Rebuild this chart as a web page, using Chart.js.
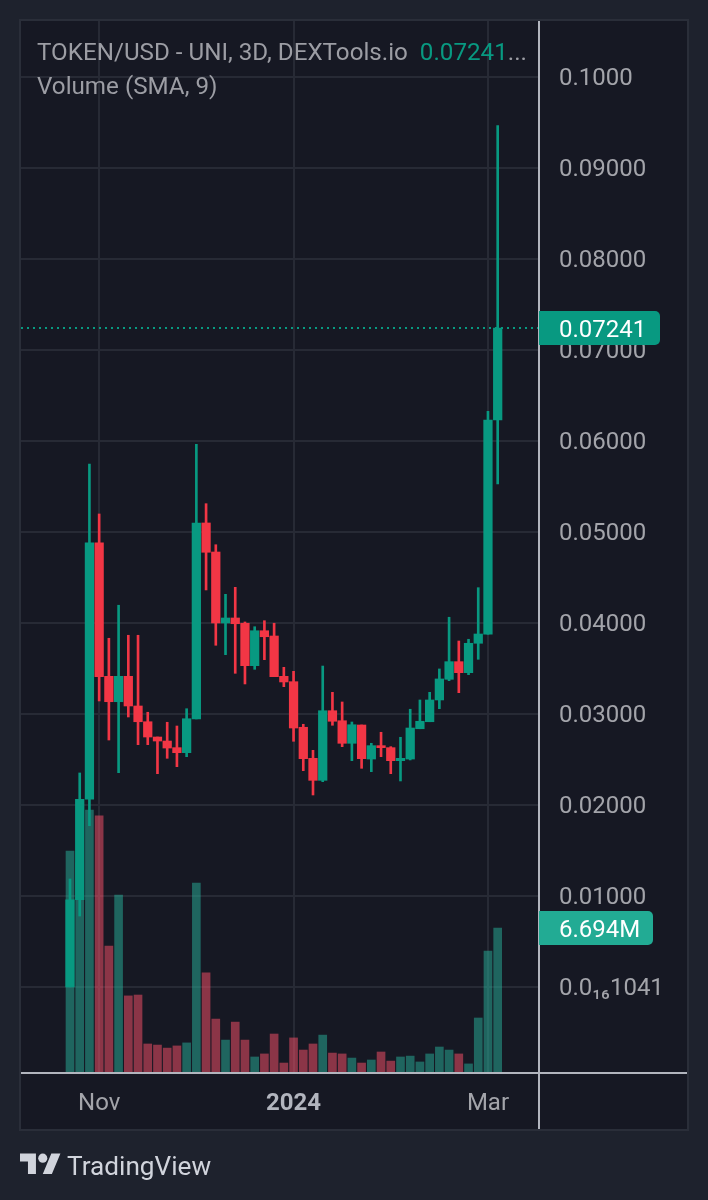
<!DOCTYPE html>
<html>
<head>
<meta charset="utf-8">
<title>TOKEN/USD</title>
<script src="https://cdn.jsdelivr.net/npm/chart.js@4/dist/chart.umd.min.js"></script>
<style>
  html, body { margin: 0; padding: 0; background: #1e222d; }
  body { width: 708px; height: 1200px; position: relative; overflow: hidden; font-family: Roboto, sans-serif; }
  canvas { position: absolute; left: 0; top: 0; }
  .legend { position: absolute; left: 37px; font-size: 24.2px; line-height: 30px; color: #9c9da4; white-space: nowrap; }
  .legend b { font-weight: 400; color: #089981; margin-left: 6px; }
  #brand { position: absolute; left: 20px; top: 1149px; height: 34px; display: flex; align-items: center; color: #d1d4dc; font-size: 26.2px; }
  #brand svg { margin-right: 6px; margin-top: -2px; }
</style>
</head>
<body>
<canvas id="chart" width="708" height="1200"></canvas>
<div class="legend" style="top:37px">TOKEN/USD - UNI, 3D, DEXTools.io <b id="lastPrice"></b><span>...</span></div>
<div class="legend" style="top:71px">Volume (SMA, 9)</div>
<div id="brand">
  <svg width="41" height="32" viewBox="0 0 36 28"><path fill="#d1d4dc" d="M14 22H7V11H0V4h14v18zM28 22h-8l7.5-18h8L28 22z"/><circle fill="#d1d4dc" cx="20" cy="8" r="4"/></svg>
  <span>TradingView</span>
</div>
<script>
// 3D candles
const dates = ['Oct 23','Oct 26','Oct 29','Nov 1','Nov 4','Nov 7','Nov 10','Nov 13','Nov 16','Nov 19','Nov 22','Nov 25','Nov 28','Dec 1','Dec 4','Dec 7','Dec 10','Dec 13','Dec 16','Dec 19','Dec 22','Dec 25','Dec 28','Dec 31','Jan 3','Jan 6','Jan 9','Jan 12','Jan 15','Jan 18','Jan 21','Jan 24','Jan 27','Jan 30','Feb 2','Feb 5','Feb 8','Feb 11','Feb 14','Feb 17','Feb 20','Feb 23','Feb 26','Feb 29','Mar 3'];
const opens = [0.00001,0.00959,0.02063,0.04882,0.03414,0.03135,0.03414,0.03088,0.02915,0.02747,0.02703,0.0263,0.02575,0.02945,0.05099,0.0478,0.04,0.04055,0.03997,0.03531,0.03915,0.03857,0.03414,0.03355,0.02854,0.02513,0.02271,0.03036,0.02926,0.02678,0.02879,0.02505,0.02652,0.0263,0.02487,0.02505,0.02838,0.02915,0.03154,0.03381,0.03575,0.03454,0.03777,0.03876,0.06231];
const closes = [0.00959,0.02063,0.04882,0.0341,0.03135,0.03414,0.03088,0.02915,0.02747,0.02703,0.02626,0.02575,0.02948,0.05099,0.04777,0.04,0.04055,0.03992,0.03531,0.03915,0.03849,0.0341,0.03352,0.02846,0.02509,0.02271,0.03036,0.0292,0.02678,0.02882,0.02509,0.02652,0.0263,0.02487,0.02513,0.02846,0.0292,0.03154,0.03385,0.03575,0.03454,0.03777,0.03879,0.06231,0.07241];
const highs = [0.01187,0.02352,0.05747,0.05198,0.03832,0.04195,0.03865,0.03865,0.03019,0.02747,0.02909,0.02868,0.03058,0.05964,0.05311,0.0486,0.04315,0.04392,0.04011,0.03959,0.04025,0.03997,0.03513,0.03469,0.02887,0.02601,0.03527,0.03238,0.03132,0.02912,0.02879,0.02678,0.02799,0.02641,0.02744,0.03052,0.03154,0.03238,0.03495,0.04063,0.03802,0.03821,0.04388,0.06326,0.09465];
const lows = [0.00001,0.0078,0.01773,0.03143,0.02714,0.02355,0.02967,0.02663,0.02663,0.02344,0.02513,0.02421,0.02531,0.02945,0.04363,0.03755,0.03652,0.03447,0.0333,0.03491,0.03597,0.0341,0.033,0.027,0.02377,0.0211,0.02256,0.02876,0.02641,0.02487,0.02403,0.02366,0.02531,0.02344,0.02264,0.02495,0.02838,0.02915,0.03058,0.03366,0.03234,0.03432,0.03601,0.03876,0.05527];
const volumes = [10.25,9.7,12.14,11.87,5.86,8.22,3.56,3.6,1.34,1.29,1.15,1.25,1.39,8.77,4.62,2.49,1.52,2.35,1.52,0.74,0.88,1.8,0.46,1.62,1.06,1.34,1.75,0.92,0.88,0.69,0.46,0.6,0.97,0.55,0.74,0.78,0.51,0.88,1.2,1.06,0.88,0.42,2.54,5.63,6.694];

const priceTicks = [0.0000000000000000104,0.01,0.02,0.03,0.04,0.05,0.06,0.07,0.08,0.09,0.1];
const priceTickLabels = ['0.0₁₆1041','0.01000','0.02000','0.03000','0.04000','0.05000','0.06000','0.07000','0.08000','0.09000','0.1000'];
const timeTicks = [3, 23, 43];
const timeTickLabels = ['Nov', '2024', 'Mar'];

const GREEN = '#089981';
const RED = '#f23645';
const TEXT = '#a3a4aa';
const AXIS_LINE = '#b2b5be';
const GRID = '#272a35';

const isUp = (i) => closes[i] >= opens[i];
const candleColor = (ctx) => (isUp(ctx.dataIndex) ? GREEN : RED);
const volumeColor = (ctx) => (isUp(ctx.dataIndex) ? 'rgba(40,178,155,0.5)' : 'rgba(255,82,107,0.5)');

const xMin = -5.04;
const xMax = 48.25;
const lastClose = closes[closes.length - 1];
const lastVolume = volumes[volumes.length - 1];

document.getElementById('lastPrice').textContent = lastClose.toFixed(5);

function badge(ctx, y, width, color, text) {
    ctx.fillStyle = color;
    ctx.beginPath();
    ctx.roundRect(539, y - 17, width, 34, [0, 5, 5, 0]);
    ctx.fill();
    ctx.fillStyle = '#ffffff';
    ctx.font = '24px Roboto';
    ctx.textAlign = 'left';
    ctx.textBaseline = 'middle';
    ctx.fillText(text, 559, y + 3);
}

// pane colour, pane frame, the two light axis lines and the last value badges
const tradingViewPane = {
    id: 'tradingViewPane',
    beforeDraw(chart) {
        const ctx = chart.ctx;
        ctx.save();
        ctx.fillStyle = '#161823';
        ctx.fillRect(21, 21, 666, 1108);
        ctx.strokeStyle = '#2a2e39';
        ctx.lineWidth = 2;
        ctx.strokeRect(20, 20, 668, 1110);
        ctx.restore();
    },
    afterDraw(chart) {
        const ctx = chart.ctx;
        const area = chart.chartArea;
        ctx.save();
        ctx.strokeStyle = AXIS_LINE;
        ctx.lineWidth = 2;
        ctx.beginPath();
        ctx.moveTo(21, area.bottom);
        ctx.lineTo(687, area.bottom);
        ctx.moveTo(area.right, 21);
        ctx.lineTo(area.right, 1129);
        ctx.stroke();
        badge(ctx, chart.scales.y.getPixelForValue(lastClose), 121, '#089981', lastClose.toFixed(5));
        badge(ctx, chart.scales.yVolume.getPixelForValue(lastVolume), 114, '#22ab94', lastVolume.toFixed(3) + 'M');
        ctx.restore();
    }
};

new Chart(document.getElementById('chart'), {
    type: 'bar',
    data: {
        datasets: [
            {
                label: 'Volume',
                yAxisID: 'yVolume',
                data: volumes.map((v, i) => ({ x: i, y: v })),
                backgroundColor: volumeColor,
                barThickness: 8,
                grouped: false,
                order: 4
            },
            {
                type: 'line',
                label: 'Last price',
                data: [{ x: xMin, y: lastClose }, { x: xMax, y: lastClose }],
                borderColor: GREEN,
                borderWidth: 2,
                borderDash: [2, 4],
                pointRadius: 0,
                order: 3
            },
            {
                label: 'Wick',
                data: dates.map((d, i) => ({ x: i, y: [lows[i], highs[i]] })),
                backgroundColor: candleColor,
                barThickness: 2,
                grouped: false,
                order: 2
            },
            {
                label: 'Body',
                data: dates.map((d, i) => ({ x: i, y: [opens[i], closes[i]] })),
                backgroundColor: candleColor,
                barThickness: 8.6,
                grouped: false,
                order: 1
            }
        ]
    },
    options: {
        responsive: false,
        animation: false,
        layout: { padding: { left: 21, top: 21, right: 21, bottom: 71 } },
        plugins: { legend: { display: false }, tooltip: { enabled: false } },
        scales: {
            x: {
                type: 'linear',
                min: xMin,
                max: xMax,
                offset: false,
                afterBuildTicks: (scale) => { scale.ticks = timeTicks.map((value) => ({ value })); },
                afterFit: (scale) => {
                    scale.height = 56;
                    scale.paddingLeft = 0;
                    scale.paddingRight = 0;
                },
                grid: { color: GRID, lineWidth: 2, drawTicks: false, offset: false },
                border: { display: false },
                ticks: {
                    autoSkip: false,
                    maxRotation: 0,
                    padding: 17,
                    color: (ctx) => (ctx.index === 1 ? '#b2b5be' : TEXT),
                    font: (ctx) => ({ family: 'Roboto', size: 24, weight: ctx.index === 1 ? 'bold' : 'normal' }),
                    callback: (value, index) => timeTickLabels[index]
                }
            },
            y: {
                position: 'right',
                min: -0.00945,
                max: 0.10615,
                afterBuildTicks: (scale) => { scale.ticks = priceTicks.map((value) => ({ value })); },
                afterFit: (scale) => {
                    scale.width = 148;
                    scale.paddingTop = 0;
                    scale.paddingBottom = 0;
                },
                grid: { color: GRID, lineWidth: 2, drawTicks: false },
                border: { display: false },
                ticks: {
                    autoSkip: false,
                    padding: 20,
                    labelOffset: 2,
                    color: TEXT,
                    font: { family: 'Roboto', size: 24 },
                    callback: (value, index) => priceTickLabels[index]
                }
            },
            yVolume: {
                display: false,
                min: 0,
                max: 48.57
            }
        }
    },
    plugins: [tradingViewPane]
});
</script>
</body>
</html>
